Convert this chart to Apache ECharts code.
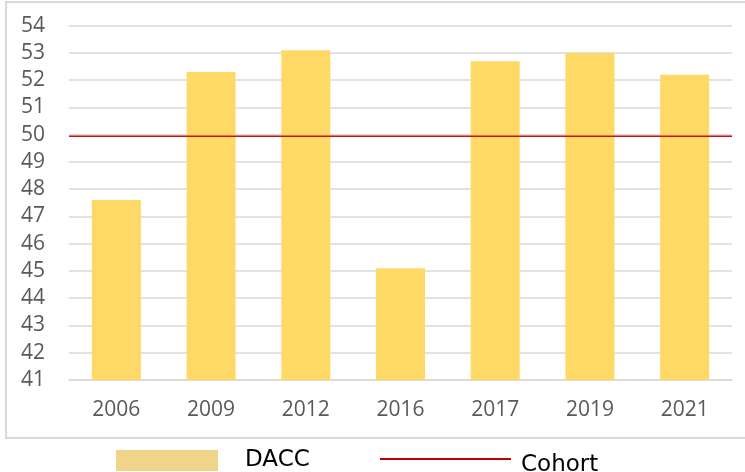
<!DOCTYPE html>
<html>
<head>
<meta charset="utf-8">
<script src="https://cdn.jsdelivr.net/npm/echarts@6/dist/echarts.min.js"></script>
<style>html,body{margin:0;padding:0;background:#fff}#c{width:745px;height:472px}</style>
</head>
<body>
<div id="c"></div>
<script>
const categories = ['2006','2009','2012','2016','2017','2019','2021'];
const daccValues = [47.6, 52.3, 53.1, 45.1, 52.7, 53.0, 52.2];
const cohortValues = [49.94, 49.94, 49.94, 49.94, 49.94, 49.94, 49.94];
const yMin = 41, yMax = 54, yInterval = 1;

const chart = echarts.init(document.getElementById('c'));
chart.setOption({
  animation: false,
  backgroundColor: '#fff',
  grid: { left: 69, right: 13, top: 25.7, bottom: 92, containLabel: false },
  xAxis: [
    { type: 'category', data: categories,
      axisLine: { show: true, lineStyle: { color: '#D9D9D9', width: 1.5 } },
      axisTick: { show: false },
      axisLabel: { color: '#595959', fontSize: 21, fontFamily: 'Open Sans', margin: 20 } },
    { type: 'category', data: categories, boundaryGap: false, show: false }
  ],
  yAxis: {
    type: 'value', min: yMin, max: yMax, interval: yInterval,
    axisLine: { show: false }, axisTick: { show: false },
    splitLine: { lineStyle: { color: '#D9D9D9', width: 1.5 } },
    axisLabel: { color: '#595959', fontSize: 21, fontFamily: 'Open Sans', margin: 24 }
  },
  legend: [
    { data: [{ name: 'DACC', icon: 'rect', itemStyle: { color: '#F0D48A' } }],
      left: 116, top: 449, padding: 0, itemWidth: 102, itemHeight: 21,
      textStyle: { fontSize: 23, fontFamily: 'DejaVu Sans', color: '#000', padding: [0, 0, 0, 22] } },
    { data: [{ name: 'Cohort', icon: 'rect', itemStyle: { color: '#C00000' } }],
      left: 380, top: 453.5, padding: 0, itemWidth: 131, itemHeight: 2,
      formatter: '{a|{name}}',
      textStyle: { fontSize: 23, fontFamily: 'DejaVu Sans', color: '#000',
        rich: { a: { fontSize: 23, fontFamily: 'DejaVu Sans', color: '#000', padding: [12, 0, 0, 5] } } } }
  ],
  graphic: [
    { type: 'rect', shape: { x: 6, y: 2, width: 760, height: 436 },
      style: { fill: 'none', stroke: '#D9D9D9', lineWidth: 2 }, silent: true, z: -1 }
  ],
  series: [
    { name: 'DACC', type: 'bar', data: daccValues, barWidth: 49,
      itemStyle: { color: '#FFD966' } },
    { name: 'Cohort', type: 'line', xAxisIndex: 1, data: cohortValues, symbol: 'none',
      lineStyle: { color: '#D01010', width: 1.5 }, itemStyle: { color: '#C00000' }, z: 5 }
  ]
});
</script>
</body>
</html>
